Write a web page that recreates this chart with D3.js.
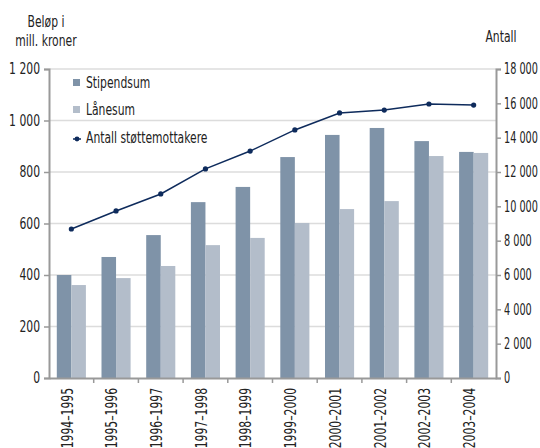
<!DOCTYPE html>
<html>
<head>
<meta charset="utf-8">
<script src="https://cdn.jsdelivr.net/npm/d3@7"></script>
<style>
  body { margin: 0; background: #fff; }
  text { font-family: "DejaVu Sans Condensed", "DejaVu Sans", sans-serif; fill: #222; }
</style>
</head>
<body>
<svg id="chart" width="540" height="448"></svg>
<script>
  var years = ["1994–1995", "1995–1996", "1996–1997", "1997–1998", "1998–1999",
               "1999–2000", "2000–2001", "2001–2002", "2002–2003", "2003–2004"];
  var stipend = [400, 470, 555, 683, 742, 858, 944, 971, 920, 878];
  var laan = [361, 388, 435, 516, 544, 602, 656, 687, 862, 874];
  var antall = [8680, 9730, 10720, 12180, 13220, 14450, 15440, 15610, 15960, 15900];
  var leftTicks = [0, 200, 400, 600, 800, 1000, 1200];
  var rightTicks = [0, 2000, 4000, 6000, 8000, 10000, 12000, 14000, 16000, 18000];

  var svg = d3.select("#chart");
  var plotL = 49, plotR = 496, plotT = 69, plotB = 378;
  var fmt = function(v) { return d3.format(",")(v).replace(/,/g, " "); };

  var x = d3.scaleBand().domain(years).range([plotL, plotR]);
  var inner = d3.scaleBand().domain(["s", "l"]).range([7.8, x.bandwidth() - 7.8]);
  var yL = d3.scaleLinear().domain([0, 1200]).range([plotB, plotT]);
  var yR = d3.scaleLinear().domain([0, 18000]).range([plotB, plotT]);

  // gridlines
  svg.append("g").selectAll("line")
    .data(leftTicks.slice(1))
    .join("line")
      .attr("x1", plotL).attr("x2", plotR)
      .attr("y1", function(d) { return yL(d); })
      .attr("y2", function(d) { return yL(d); })
      .attr("stroke", "#dcdcdc")
      .attr("stroke-width", 1.5);

  // bars
  var groups = svg.append("g").selectAll("g")
    .data(years)
    .join("g")
      .attr("transform", function(d) { return "translate(" + x(d) + ",0)"; });

  groups.append("rect")
    .attr("x", inner("s"))
    .attr("width", inner.bandwidth())
    .attr("y", function(d, i) { return yL(stipend[i]); })
    .attr("height", function(d, i) { return plotB - yL(stipend[i]); })
    .attr("fill", "#7f93a8");

  groups.append("rect")
    .attr("x", inner("l"))
    .attr("width", inner.bandwidth())
    .attr("y", function(d, i) { return yL(laan[i]); })
    .attr("height", function(d, i) { return plotB - yL(laan[i]); })
    .attr("fill", "#b3bdca");

  // line
  var line = d3.line()
    .x(function(d, i) { return x(years[i]) + x.bandwidth() / 2; })
    .y(function(d) { return yR(d); });

  svg.append("path")
    .datum(antall)
    .attr("d", line)
    .attr("fill", "none")
    .attr("stroke", "#0e2b5c")
    .attr("stroke-width", 1.5);

  svg.append("g").selectAll("circle")
    .data(antall)
    .join("circle")
      .attr("cx", function(d, i) { return x(years[i]) + x.bandwidth() / 2; })
      .attr("cy", function(d) { return yR(d); })
      .attr("r", 2.6)
      .attr("fill", "#0e2b5c");

  // axes
  var axisL = svg.append("g")
    .attr("transform", "translate(" + plotL + ",0)")
    .call(d3.axisLeft(yL).tickValues(leftTicks).tickFormat(fmt).tickSize(5).tickPadding(4));
  var axisR = svg.append("g")
    .attr("transform", "translate(" + plotR + ",0)")
    .call(d3.axisRight(yR).tickValues(rightTicks).tickFormat(fmt).tickSize(5).tickPadding(3));
  var axisB = svg.append("g")
    .attr("transform", "translate(0," + plotB + ")")
    .call(d3.axisBottom(x).tickSize(0).tickPadding(8));

  [axisL, axisR, axisB].forEach(function(a) {
    a.select(".domain").attr("stroke", "#999").attr("stroke-width", 2);
    a.selectAll(".tick line").attr("stroke", "#999").attr("stroke-width", 1.5);
    a.selectAll("text").style("font-size", "15px").attr("fill", "#222");
  });

  axisB.selectAll(".tick text")
    .attr("transform", "rotate(-90)")
    .attr("text-anchor", "end")
    .attr("x", -10)
    .attr("y", -4)
    .attr("dy", "0.35em");

  // category separators on x axis
  svg.append("g").selectAll("line")
    .data(years.slice(1))
    .join("line")
      .attr("x1", function(d) { return x(d); })
      .attr("x2", function(d) { return x(d); })
      .attr("y1", plotB).attr("y2", plotB + 5)
      .attr("stroke", "#999").attr("stroke-width", 1.5);

  // axis titles
  svg.append("text").attr("x", 46).attr("y", 27).attr("text-anchor", "middle")
    .style("font-size", "15px").text("Beløp i");
  svg.append("text").attr("x", 46).attr("y", 46).attr("text-anchor", "middle")
    .style("font-size", "15px").text("mill. kroner");
  svg.append("text").attr("x", 501).attr("y", 42).attr("text-anchor", "middle")
    .style("font-size", "15px").text("Antall");

  // legend
  var legend = svg.append("g");
  legend.append("rect").attr("x", 73).attr("y", 79).attr("width", 7).attr("height", 7).attr("fill", "#7f93a8");
  legend.append("text").attr("x", 86).attr("y", 88).style("font-size", "15px").text("Stipendsum");
  legend.append("rect").attr("x", 73).attr("y", 106).attr("width", 7).attr("height", 7).attr("fill", "#b3bdca");
  legend.append("text").attr("x", 86).attr("y", 115).style("font-size", "15px").text("Lånesum");
  legend.append("line").attr("x1", 73).attr("x2", 81).attr("y1", 139).attr("y2", 139)
    .attr("stroke", "#0e2b5c").attr("stroke-width", 1.5);
  legend.append("circle").attr("cx", 77).attr("cy", 139).attr("r", 2.4).attr("fill", "#0e2b5c");
  legend.append("text").attr("x", 86).attr("y", 143).style("font-size", "15px").text("Antall støttemottakere");

  // the original uses a condensed face, so squeeze every text sideways
  function squeeze(sel, k) {
    sel.each(function() {
      var t = d3.select(this);
      var x0 = +t.attr("x") || 0;
      var tr = t.attr("transform") || "";
      t.attr("x", x0 / k).attr("transform", tr + " scale(" + k + ",1)");
    });
  }
  squeeze(svg.selectAll("text").filter(function() { return this.parentNode.parentNode !== axisR.node(); }), 0.8);
  squeeze(axisR.selectAll("text"), 0.72);
</script>
</body>
</html>
